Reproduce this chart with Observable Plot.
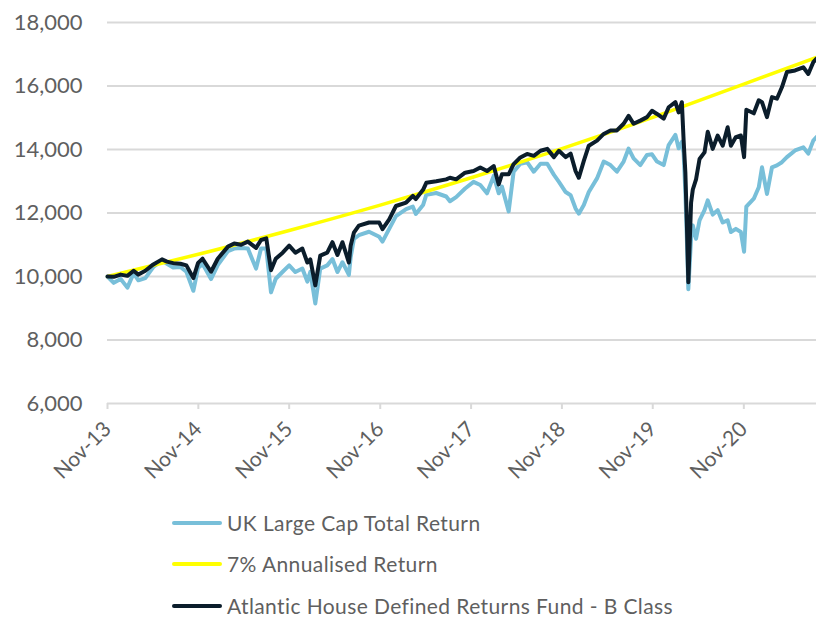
<!DOCTYPE html>
<html><head><meta charset="utf-8">
<script src="https://cdn.jsdelivr.net/npm/d3@7"></script>
<script src="https://cdn.jsdelivr.net/npm/@observablehq/plot@0.6"></script>
<style>
html,body{margin:0;padding:0;background:#fff;overflow:hidden;width:816px;height:617px;}
body{position:relative;font-family:Lato,"Open Sans",sans-serif;}
#chart{position:absolute;left:0;top:0;width:816px;}
#legend{position:absolute;left:172px;top:502px;}
.row{display:flex;align-items:center;height:41.5px;}
.sw{width:50px;height:4px;border-radius:2px;margin-right:5px;}
.lab{font-size:21px;font-weight:400;letter-spacing:0.4px;color:#5f5f5f;white-space:nowrap;line-height:26px;}
</style></head><body>
<div id="chart"></div>
<div id="legend"></div>
<script>
// ---- data ----
const dates = ["2013-11-01","2013-11-26","2013-12-24","2014-01-20","2014-02-14","2014-03-05","2014-04-02","2014-05-04","2014-06-08","2014-06-28","2014-07-23","2014-08-21","2014-09-14","2014-10-12","2014-10-31","2014-11-18","2014-12-22","2015-01-18","2015-02-28","2015-03-25","2015-04-22","2015-05-19","2015-06-21","2015-07-11","2015-08-01","2015-08-20","2015-09-08","2015-10-06","2015-11-01","2015-11-26","2015-12-24","2016-01-13","2016-01-25","2016-02-14","2016-03-05","2016-04-02","2016-04-23","2016-05-13","2016-06-02","2016-06-28","2016-07-05","2016-07-18","2016-08-07","2016-09-17","2016-10-28","2016-11-10","2016-12-07","2017-01-03","2017-02-13","2017-03-12","2017-03-24","2017-04-22","2017-05-05","2017-06-14","2017-07-24","2017-08-08","2017-09-02","2017-10-08","2017-11-11","2017-12-08","2018-01-04","2018-01-31","2018-02-20","2018-03-05","2018-04-01","2018-04-21","2018-05-18","2018-06-14","2018-07-11","2018-08-07","2018-09-03","2018-09-30","2018-10-20","2018-11-16","2018-12-06","2018-12-26","2019-01-08","2019-01-28","2019-02-17","2019-03-22","2019-04-18","2019-05-15","2019-06-10","2019-07-07","2019-07-27","2019-08-16","2019-09-12","2019-10-09","2019-10-29","2019-11-18","2019-12-15","2020-01-04","2020-01-31","2020-02-13","2020-02-26","2020-03-04","2020-03-11","2020-03-17","2020-03-23","2020-04-03","2020-04-10","2020-04-23","2020-05-07","2020-05-27","2020-06-09","2020-06-29","2020-07-19","2020-08-08","2020-08-28","2020-09-10","2020-09-30","2020-10-20","2020-11-02","2020-11-11","2020-12-11","2020-12-31","2021-01-13","2021-02-02","2021-02-22","2021-03-14","2021-04-03","2021-04-23","2021-05-26","2021-06-28","2021-07-18","2021-08-07","2021-08-20"];
const fundValues = [10000,9990,10060,10020,10180,10060,10180,10380,10540,10470,10420,10400,10350,9950,10430,10560,10150,10560,10940,11040,11000,11100,10900,11150,11200,10200,10560,10750,10970,10750,10880,10440,10540,9720,10660,10750,11080,10680,11080,10440,10970,11380,11600,11700,11700,11490,11800,12220,12330,12540,12440,12730,12950,13000,13060,13110,13060,13270,13320,13430,13320,13480,12900,13220,13220,13540,13750,13860,13800,13960,14020,13760,13960,13760,13870,13320,13110,13640,14120,14280,14490,14600,14600,14810,15060,14810,14910,15020,15220,15120,14970,15330,15490,15170,15490,14300,13280,11700,9820,12320,12740,13060,13700,13910,14560,14020,14440,14120,14700,14120,14390,14440,13760,15250,15140,15550,15490,15020,15650,15600,15960,16440,16490,16590,16380,16750,16860];
const indexValues = [10000,9800,9920,9650,10100,9880,9950,10300,10500,10400,10280,10300,10150,9550,10270,10400,9920,10360,10800,10880,10900,10880,10250,10880,10880,9500,9930,10150,10350,10140,10250,9840,10150,9150,10250,10350,10550,10140,10450,10050,10600,11180,11300,11410,11250,11100,11500,11900,12120,12200,11970,12250,12570,12630,12520,12370,12500,12770,12980,12880,12620,13170,12620,12830,12050,13300,13550,13600,13300,13550,13550,13200,12980,12660,12560,12140,11980,12250,12660,13090,13620,13510,13300,13620,14030,13720,13510,13830,13850,13620,13510,14140,14460,14040,14240,13900,12650,11190,9600,11190,11610,11190,11770,12090,12400,11950,12090,11700,11770,11400,11500,11400,10780,12200,12450,12810,13440,12600,13440,13500,13600,13760,13970,14070,13870,14280,14390];
const targetDates = ["2013-11-01","2014-11-01","2015-11-01","2016-11-01","2017-11-01","2018-11-01","2019-11-01","2020-11-01","2021-08-20"];
const targetValues = [10000,10700,11450,12250,13110,14030,15010,16060,16900];
const yTicks = [6000,8000,10000,12000,14000,16000,18000];
const xTicks = ["2013-11-01","2014-11-01","2015-11-01","2016-11-01","2017-11-01","2018-11-01","2019-11-01","2020-11-01"];
const seriesNames = ["UK Large Cap Total Return","7% Annualised Return","Atlantic House Defined Returns Fund - B Class"];
const seriesColors = ["#78bfd9","#ffff00","#0b1d2b"];

const parse = d3.utcParse("%Y-%m-%d");
const rows = dates.map((d,i)=>({date:parse(d), fund:fundValues[i], idx:indexValues[i]}));
const target = targetDates.map((d,i)=>({date:parse(d), value:targetValues[i]}));

const chart = Plot.plot({
  width: 816, height: 490,
  marginLeft: 107, marginRight: 0, marginTop: 22, marginBottom: 87,
  style: {fontFamily: "Lato, 'Open Sans', sans-serif", color: "#5f5f5f", background: "#fff", overflow: "visible"},
  x: {type: "utc", domain: [parse("2013-11-01"), parse("2021-08-20")]},
  y: {domain: [6000, 18000]},
  marks: [
    Plot.ruleY(yTicks, {stroke: "#d9d9d9", strokeWidth: 2}),
    Plot.axisY({ticks: yTicks, tickSize: 0, tickPadding: 25, tickFormat: d3.format(","), label: null, fontSize: 22}),
    Plot.axisX({ticks: xTicks.map(parse), tickFormat: d3.utcFormat("%b-%y"), tickRotate: -45, tickSize: 6, tickPadding: 16, stroke: "#d9d9d9", strokeWidth: 2, label: null, fontSize: 21}),
    Plot.lineY(rows, {x: "date", y: "idx", stroke: seriesColors[0], strokeWidth: 4, strokeLinejoin: "round"}),
    Plot.lineY(target, {x: "date", y: "value", stroke: seriesColors[1], strokeWidth: 3.5, curve: "natural"}),
    Plot.lineY(rows, {x: "date", y: "fund", stroke: seriesColors[2], strokeWidth: 4, strokeLinejoin: "round"})
  ]
});
document.getElementById("chart").appendChild(chart);

const legend = document.getElementById("legend");
seriesNames.forEach((name, i) => {
  const row = document.createElement("div"); row.className = "row";
  const sw = document.createElement("div"); sw.className = "sw"; sw.style.background = seriesColors[i];
  const lab = document.createElement("div"); lab.className = "lab"; lab.textContent = name;
  row.appendChild(sw); row.appendChild(lab); legend.appendChild(row);
});
</script>
</body></html>
